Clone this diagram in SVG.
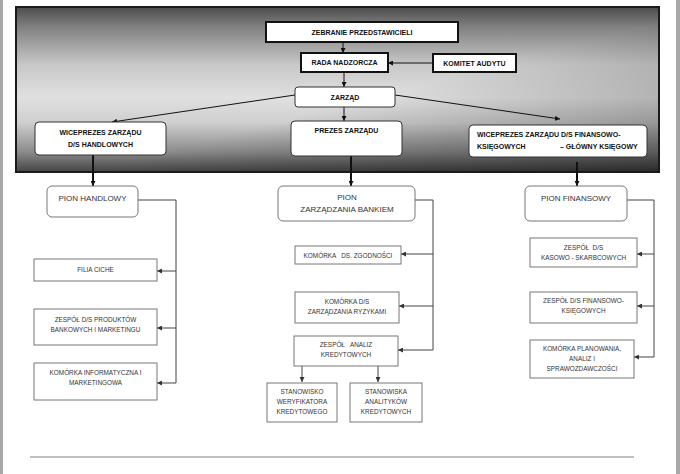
<svg xmlns="http://www.w3.org/2000/svg" width="680" height="474" viewBox="0 0 680 474">
<style>
text{font-family:"Liberation Sans",Arial,sans-serif;text-anchor:middle}
.tb{font-size:7px;font-weight:bold;fill:#111}
.tp{font-size:8px;fill:#333}
.ts{font-size:6.4px;fill:#333}
.bx{fill:#fff;stroke:#111;stroke-width:2}
.rb{fill:#fff;stroke:#333;stroke-width:1}
.lb{fill:#fff;stroke:#777;stroke-width:1}
.ln{fill:none;stroke:#111;stroke-width:1}
.lt{fill:none;stroke:#111;stroke-width:2}
.lg{fill:none;stroke:#444;stroke-width:1}
</style>
<defs>
<linearGradient id="gv" x1="0" y1="0" x2="0" y2="1">
<stop offset="0" stop-color="#4c4c4c"/>
<stop offset="0.12" stop-color="#808080"/>
<stop offset="0.35" stop-color="#c8c8c8"/>
<stop offset="0.55" stop-color="#e0e0e0"/>
<stop offset="0.7" stop-color="#cfcfcf"/>
<stop offset="0.88" stop-color="#8a8a8a"/>
<stop offset="1" stop-color="#444"/>
</linearGradient>
<linearGradient id="gd" x1="0" y1="0" x2="1" y2="1">
<stop offset="0" stop-color="#000" stop-opacity="0"/>
<stop offset="0.55" stop-color="#000" stop-opacity="0"/>
<stop offset="1" stop-color="#000" stop-opacity="0.4"/>
</linearGradient>
<marker id="a" viewBox="0 0 10 10" refX="10" refY="5" markerWidth="5" markerHeight="5" markerUnits="userSpaceOnUse" orient="auto">
<path d="M0,0 L10,5 L0,10 z" fill="#111"/>
</marker>
<marker id="ag" viewBox="0 0 10 10" refX="10" refY="5" markerWidth="5" markerHeight="5" markerUnits="userSpaceOnUse" orient="auto">
<path d="M0,0 L10,5 L0,10 z" fill="#333"/>
</marker>
</defs>
<rect x="0" y="0" width="680" height="474" fill="#fff"/>
<rect x="0" y="0" width="3" height="474" fill="#a8a8a8"/>
<rect x="676" y="0" width="4" height="474" fill="#a8a8a8"/>
<g id="panel">
<rect x="16" y="7" width="643" height="165" fill="url(#gv)"/>
<rect x="16" y="7" width="643" height="165" fill="url(#gd)"/>
<rect x="16" y="7" width="643" height="165" fill="none" stroke="#1a1a1a" stroke-width="2"/>
</g>
<g id="connectors">
<line class="ln" x1="343" y1="42" x2="343" y2="53" marker-end="url(#a)"/>
<line class="ln" x1="433" y1="63" x2="388" y2="63" marker-end="url(#a)"/>
<line class="ln" x1="344" y1="72" x2="344" y2="87" marker-end="url(#a)"/>
<line class="ln" x1="344" y1="107" x2="344" y2="121" marker-end="url(#a)"/>
<line class="ln" x1="295" y1="95" x2="112" y2="122" marker-end="url(#a)"/>
<line class="ln" x1="395" y1="95" x2="560" y2="119" marker-end="url(#a)"/>
<line class="lt" x1="93" y1="155" x2="93" y2="186" marker-end="url(#a)"/>
<line class="lt" x1="351" y1="156" x2="351" y2="186" marker-end="url(#a)"/>
<line class="lt" x1="577" y1="162" x2="577" y2="186" marker-end="url(#a)"/>
<path class="lg" d="M138,200 H176 V383"/>
<line class="lg" x1="176" y1="271" x2="157" y2="271" marker-end="url(#ag)"/>
<line class="lg" x1="176" y1="328" x2="157" y2="328" marker-end="url(#ag)"/>
<line class="lg" x1="176" y1="383" x2="157" y2="383" marker-end="url(#ag)"/>
<path class="lg" d="M415,200 H433 V350"/>
<line class="lg" x1="433" y1="254" x2="401" y2="254" marker-end="url(#ag)"/>
<line class="lg" x1="433" y1="306" x2="399" y2="306" marker-end="url(#ag)"/>
<line class="lg" x1="433" y1="350" x2="398" y2="350" marker-end="url(#ag)"/>
<line class="lg" x1="302" y1="366" x2="302" y2="382" marker-end="url(#ag)"/>
<line class="lg" x1="378" y1="366" x2="378" y2="382" marker-end="url(#ag)"/>
<path class="lg" d="M627,200 H654 V357"/>
<line class="lg" x1="654" y1="254" x2="637" y2="254" marker-end="url(#ag)"/>
<line class="lg" x1="654" y1="306" x2="637" y2="306" marker-end="url(#ag)"/>
<line class="lg" x1="654" y1="357" x2="634" y2="357" marker-end="url(#ag)"/>
</g>
<g id="zebranie"><rect class="bx" x="266" y="22" width="192" height="20"/><text class="tb" x="362" y="34.5">ZEBRANIE PRZEDSTAWICIELI</text></g>
<g id="rada"><rect class="bx" x="301" y="53" width="87" height="19"/><text class="tb" x="344.5" y="65">RADA NADZORCZA</text></g>
<g id="komitet"><rect class="bx" x="433" y="54" width="83" height="18"/><text class="tb" x="474.5" y="65.5">KOMITET AUDYTU</text></g>
<g id="zarzad"><rect class="rb" x="295" y="87" width="100" height="20" rx="3"/><text class="tb" x="345" y="99.5">ZARZĄD</text></g>
<g id="prezes"><rect class="rb" x="291" y="121" width="111" height="35" rx="4"/><text class="tb" x="346.5" y="133">PREZES ZARZĄDU</text></g>
<g id="wice-handl"><rect class="rb" x="35" y="122" width="131" height="33" rx="4"/><text class="tb" x="100.5" y="135">WICEPREZES ZARZĄDU</text><text class="tb" x="100.5" y="147">D/S HANDLOWYCH</text></g>
<g id="wice-fin"><rect class="rb" x="469" y="125" width="178" height="32" rx="4"/><text class="tb" x="477" y="137" style="text-anchor:start">WICEPREZES ZARZĄDU D/S FINANSOWO-</text><text class="tb" x="477" y="148.5" style="text-anchor:start">KSIĘGOWYCH</text><text class="tb" x="560" y="148.5" style="text-anchor:start">– GŁÓWNY KSIĘGOWY</text></g>
<g id="pion-handl"><rect class="lb" x="47" y="186" width="91" height="31" rx="5"/><text class="tp" x="92.5" y="200.5">PION HANDLOWY</text></g>
<g id="filia"><rect class="lb" x="34" y="259" width="123" height="22"/><text class="ts" x="95.5" y="272">FILIA CICHE</text></g>
<g id="produkty"><rect class="lb" x="34" y="309" width="123" height="36"/><text class="ts" x="95.5" y="321.5">ZESPÓŁ D/S PRODUKTÓW</text><text class="ts" x="95.5" y="331.5">BANKOWYCH I MARKETINGU</text></g>
<g id="informatyczna"><rect class="lb" x="34" y="363" width="123" height="37"/><text class="ts" x="95.5" y="374.5">KOMÓRKA INFORMATYCZNA I</text><text class="ts" x="95.5" y="384.5">MARKETINGOWA</text></g>
<g id="pion-zb"><rect class="lb" x="278" y="186" width="137" height="35" rx="5"/><text class="tp" x="347" y="200">PION</text><text class="tp" x="347" y="211.5">ZARZĄDZANIA BANKIEM</text></g>
<g id="zgodnosc"><rect class="lb" x="295" y="246" width="106" height="18"/><text class="ts" x="348" y="257.5" xml:space="preserve">KOMÓRKA   DS. ZGODNOŚCI</text></g>
<g id="ryzyka"><rect class="lb" x="295" y="292" width="104" height="31"/><text class="ts" x="347" y="304">KOMÓRKA D/S</text><text class="ts" x="347" y="314">ZARZĄDZANIA RYZYKAMI</text></g>
<g id="analizy"><rect class="lb" x="294" y="336" width="104" height="30"/><text class="ts" x="346" y="346.5" xml:space="preserve">ZESPÓŁ   ANALIZ</text><text class="ts" x="346" y="356.5">KREDYTOWYCH</text></g>
<g id="weryfikator"><rect class="lb" x="267" y="383" width="70" height="39"/><text class="ts" x="302" y="394">STANOWISKO</text><text class="ts" x="302" y="404">WERYFIKATORA</text><text class="ts" x="302" y="414">KREDYTOWEGO</text></g>
<g id="analitycy"><rect class="lb" x="350" y="383" width="72" height="39"/><text class="ts" x="386" y="394">STANOWISKA</text><text class="ts" x="386" y="404">ANALITYKÓW</text><text class="ts" x="386" y="414">KREDYTOWYCH</text></g>
<g id="pion-fin"><rect class="lb" x="525" y="186" width="102" height="35" rx="5"/><text class="tp" x="576" y="200.5">PION FINANSOWY</text></g>
<g id="kasowo"><rect class="lb" x="530" y="238" width="107" height="29"/><text class="ts" x="583.5" y="249.5" xml:space="preserve">ZESPÓŁ  D/S</text><text class="ts" x="583.5" y="259.5">KASOWO - SKARBCOWYCH</text></g>
<g id="finks"><rect class="lb" x="530" y="292" width="107" height="31"/><text class="ts" x="583.5" y="303">ZESPÓŁ D/S FINANSOWO-</text><text class="ts" x="583.5" y="313">KSIĘGOWYCH</text></g>
<g id="planowanie"><rect class="lb" x="530" y="340" width="104" height="38"/><text class="ts" x="582" y="351">KOMÓRKA PLANOWANIA,</text><text class="ts" x="582" y="361">ANALIZ I</text><text class="ts" x="582" y="371">SPRAWOZDAWCZOŚCI</text></g>
<line x1="30" y1="457" x2="634" y2="457" stroke="#aaa" stroke-width="1.5"/>
</svg>
